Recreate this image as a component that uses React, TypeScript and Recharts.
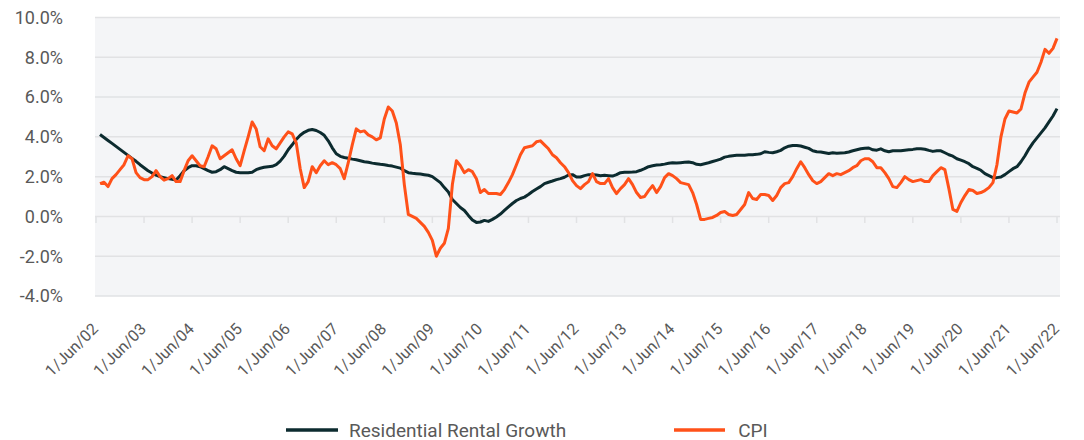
import React from 'react';
import { LineChart, Line, XAxis, YAxis, CartesianGrid, Legend, ReferenceLine } from 'recharts';

if (typeof document !== 'undefined') {
  document.body.style.margin = '0';
}

const MONTHS = ['Jan', 'Feb', 'Mar', 'Apr', 'May', 'Jun', 'Jul', 'Aug', 'Sep', 'Oct', 'Nov', 'Dec'];
const START_MONTH = 5; // June
const START_YEAR = 2002;
const MONTH_COUNT = 241;

const categories: string[] = Array.from({ length: MONTH_COUNT }, (_, i) => {
  const m = (START_MONTH + i) % 12;
  const y = START_YEAR + Math.floor((START_MONTH + i) / 12);
  return `1/${MONTHS[m]}/${String(y % 100).padStart(2, '0')}`;
});

const tickLabels = [
  '1/Jun/02', '1/Jun/03', '1/Jun/04', '1/Jun/05', '1/Jun/06', '1/Jun/07', '1/Jun/08',
  '1/Jun/09', '1/Jun/10', '1/Jun/11', '1/Jun/12', '1/Jun/13', '1/Jun/14', '1/Jun/15',
  '1/Jun/16', '1/Jun/17', '1/Jun/18', '1/Jun/19', '1/Jun/20', '1/Jun/21', '1/Jun/22',
];

const yTicks = [-4, -2, 0, 2, 4, 6, 8, 10];

// Residential Rental Growth (%), monthly Jun-02 .. Jun-22
const rentalGrowth: (number | null)[] = [
  null, 4.12, 3.97, 3.82, 3.67, 3.52, 3.37, 3.22, 3.07, 2.92, 2.77, 2.6,
  2.45, 2.3, 2.18, 2.08, 2.0, 1.95, 1.9, 1.87, 1.83, 2.05, 2.3, 2.45,
  2.55, 2.55, 2.5, 2.4, 2.3, 2.22, 2.25, 2.35, 2.5, 2.4, 2.3, 2.22,
  2.2, 2.2, 2.2, 2.22, 2.35, 2.42, 2.47, 2.5, 2.52, 2.6, 2.78, 3.03,
  3.35, 3.6, 3.87, 4.08, 4.23, 4.33, 4.37, 4.32, 4.22, 4.08, 3.8, 3.45,
  3.15, 3.02, 2.96, 2.92, 2.88, 2.85, 2.8, 2.75, 2.72, 2.68, 2.65, 2.62,
  2.6, 2.56, 2.53, 2.48, 2.43, 2.3, 2.2, 2.17, 2.15, 2.13, 2.1, 2.07,
  2.0, 1.85, 1.7, 1.45, 1.23, 0.85, 0.65, 0.45, 0.3, 0.05, -0.18, -0.3,
  -0.28, -0.2, -0.25, -0.15, -0.03, 0.12, 0.3, 0.48, 0.65, 0.8, 0.9, 0.97,
  1.1, 1.25, 1.38, 1.5, 1.65, 1.72, 1.78, 1.85, 1.9, 1.97, 2.08, 2.1,
  1.98, 1.98, 2.05, 2.1, 2.1, 2.08, 2.05, 2.07, 2.05, 2.03, 2.1, 2.2,
  2.22, 2.22, 2.23, 2.25, 2.32, 2.4, 2.5, 2.55, 2.58, 2.6, 2.63, 2.67,
  2.7, 2.68, 2.7, 2.72, 2.74, 2.7, 2.62, 2.6, 2.65, 2.7, 2.76, 2.82,
  2.88, 2.98, 3.02, 3.05, 3.07, 3.08, 3.08, 3.1, 3.1, 3.12, 3.15, 3.25,
  3.22, 3.2, 3.25, 3.32, 3.45, 3.53, 3.57, 3.57, 3.54, 3.48, 3.42, 3.3,
  3.25, 3.24, 3.2, 3.16, 3.2, 3.18, 3.19, 3.2, 3.24, 3.3, 3.35, 3.4,
  3.43, 3.44, 3.35, 3.33, 3.4, 3.3, 3.25, 3.3, 3.3, 3.3, 3.33, 3.35,
  3.37, 3.4, 3.4, 3.38, 3.32, 3.27, 3.3, 3.3, 3.2, 3.1, 3.03, 2.9,
  2.83, 2.75, 2.65, 2.5, 2.42, 2.32, 2.15, 2.05, 1.95, 1.95, 1.98, 2.1,
  2.25, 2.4, 2.5, 2.75, 3.05, 3.4, 3.7, 3.95, 4.2, 4.45, 4.75, 5.05,
  5.42,
];

// CPI (%), monthly Jun-02 .. Jun-22
const cpi: (number | null)[] = [
  null, 1.65, 1.72, 1.5, 1.9, 2.1, 2.35, 2.6, 3.05, 2.9, 2.2, 1.95,
  1.85, 1.85, 2.0, 2.3, 2.0, 1.82, 1.9, 2.05, 1.75, 1.75, 2.3, 2.8,
  3.05, 2.8, 2.55, 2.5, 3.0, 3.55, 3.4, 2.9, 3.05, 3.2, 3.35, 2.9,
  2.55, 3.3, 4.0, 4.75, 4.4, 3.5, 3.3, 3.9, 3.55, 3.4, 3.7, 4.0,
  4.25, 4.15, 3.7, 2.4, 1.45, 1.75, 2.5, 2.2, 2.55, 2.8, 2.6, 2.7,
  2.6, 2.4, 1.9, 2.7, 3.6, 4.4, 4.25, 4.3, 4.1, 4.0, 3.85, 3.95,
  4.9, 5.5, 5.3, 4.7, 3.6, 1.6, 0.1, 0.0, -0.1, -0.3, -0.5, -0.8,
  -1.2, -2.0, -1.6, -1.35, -0.6, 1.6, 2.8, 2.55, 2.2, 2.35, 2.25, 1.9,
  1.2, 1.35, 1.15, 1.15, 1.15, 1.1, 1.35, 1.7, 2.1, 2.6, 3.1, 3.45,
  3.5, 3.55, 3.75, 3.8, 3.6, 3.4, 3.1, 2.95, 2.7, 2.5, 2.2, 1.8,
  1.55, 1.4, 1.6, 1.75, 2.15, 1.75, 1.65, 1.65, 1.9, 1.45, 1.15, 1.4,
  1.6, 1.9, 1.6, 1.2, 0.95, 1.0, 1.3, 1.55, 1.2, 1.5, 1.95, 2.15,
  2.05, 1.9, 1.7, 1.65, 1.6, 1.2, 0.6, -0.15, -0.15, -0.1, -0.05, 0.05,
  0.2, 0.25, 0.1, 0.05, 0.1, 0.35, 0.6, 1.2, 0.9, 0.85, 1.1, 1.1,
  1.05, 0.8, 1.05, 1.45, 1.65, 1.7, 2.0, 2.4, 2.75, 2.45, 2.1, 1.8,
  1.65, 1.75, 1.95, 2.15, 2.05, 2.15, 2.1, 2.2, 2.3, 2.45, 2.55, 2.8,
  2.9, 2.9, 2.75, 2.45, 2.45, 2.2, 1.9, 1.5, 1.45, 1.7, 2.0, 1.85,
  1.75, 1.8, 1.85, 1.75, 1.75, 2.05, 2.25, 2.45, 2.35, 1.4, 0.35, 0.25,
  0.7, 1.05, 1.35, 1.3, 1.15, 1.2, 1.3, 1.45, 1.7, 2.6, 4.0, 4.9,
  5.3, 5.25, 5.2, 5.4, 6.2, 6.75, 7.0, 7.25, 7.75, 8.4, 8.2, 8.45,
  8.95,
];

const data = categories.map((date, i) => ({
  date,
  rental: rentalGrowth[i],
  cpi: cpi[i],
}));

const RENTAL_COLOR = '#0c2b2f';
const CPI_COLOR = '#ff5119';
const TEXT_COLOR = '#595959';
const GRID_COLOR = '#e1e2e4';
const FONT = 'Roboto, "Noto Sans", sans-serif';

const XTick = (props: any) => {
  const { x, y, payload } = props;
  const ax = x + 3;
  const ay = y + 34;
  return (
    <text
      x={ax}
      y={ay}
      textAnchor="end"
      transform={`rotate(-45, ${ax}, ${ay})`}
      fill={TEXT_COLOR}
      fontSize={16}
      fontFamily={FONT}
    >
      {payload.value}
    </text>
  );
};

const renderLegend = () => (
  <div
    style={{
      display: 'flex',
      alignItems: 'center',
      height: 20,
      paddingLeft: 286,
      fontFamily: FONT,
      fontSize: 19,
      color: TEXT_COLOR,
      whiteSpace: 'nowrap',
    }}
  >
    <svg width={52} height={6} style={{ display: 'block' }}>
      <line x1={0} y1={3} x2={52} y2={3} stroke={RENTAL_COLOR} strokeWidth={3.5} />
    </svg>
    <span style={{ marginLeft: 11 }}>Residential Rental Growth</span>
    <svg width={51} height={6} style={{ display: 'block', marginLeft: 108 }}>
      <line x1={0} y1={3} x2={51} y2={3} stroke={CPI_COLOR} strokeWidth={3.5} />
    </svg>
    <span style={{ marginLeft: 13 }}>CPI</span>
  </div>
);

export default function App() {
  return (
    <LineChart
      width={1084}
      height={440}
      data={data}
      margin={{ top: 17.5, right: 24, bottom: 0, left: 0 }}
    >
      <CartesianGrid vertical={false} fill="#f4f5f7" stroke={GRID_COLOR} strokeWidth={1.5} />
      <XAxis
        dataKey="date"
        ticks={tickLabels}
        interval={0}
        tick={<XTick />}
        tickLine={false}
        axisLine={false}
        tickSize={0}
        tickMargin={0}
        height={124}
        padding={{ left: 1, right: 3 }}
      />
      <YAxis
        type="number"
        domain={[-4, 10]}
        ticks={yTicks}
        interval={0}
        width={95}
        axisLine={false}
        tickLine={false}
        tickSize={0}
        tickMargin={32}
        tickFormatter={(v: number) => `${v.toFixed(1)}%`}
        tick={{ fill: TEXT_COLOR, fontSize: 18, fontFamily: FONT }}
      />
      {tickLabels.map((t) => (
        <ReferenceLine
          key={t}
          segment={[{ x: t, y: 0 }, { x: t, y: -0.33 }]}
          stroke={GRID_COLOR}
          strokeWidth={1.5}
          ifOverflow="visible"
        />
      ))}
      <Line
        type="linear"
        dataKey="rental"
        name="Residential Rental Growth"
        stroke={RENTAL_COLOR}
        strokeWidth={3}
        dot={false}
        activeDot={false}
        isAnimationActive={false}
        strokeLinejoin="round"
      />
      <Line
        type="linear"
        dataKey="cpi"
        name="CPI"
        stroke={CPI_COLOR}
        strokeWidth={3}
        dot={false}
        activeDot={false}
        isAnimationActive={false}
        strokeLinejoin="round"
      />
      <Legend verticalAlign="bottom" content={renderLegend} wrapperStyle={{ left: 0, width: 1084 }} />
    </LineChart>
  );
}
